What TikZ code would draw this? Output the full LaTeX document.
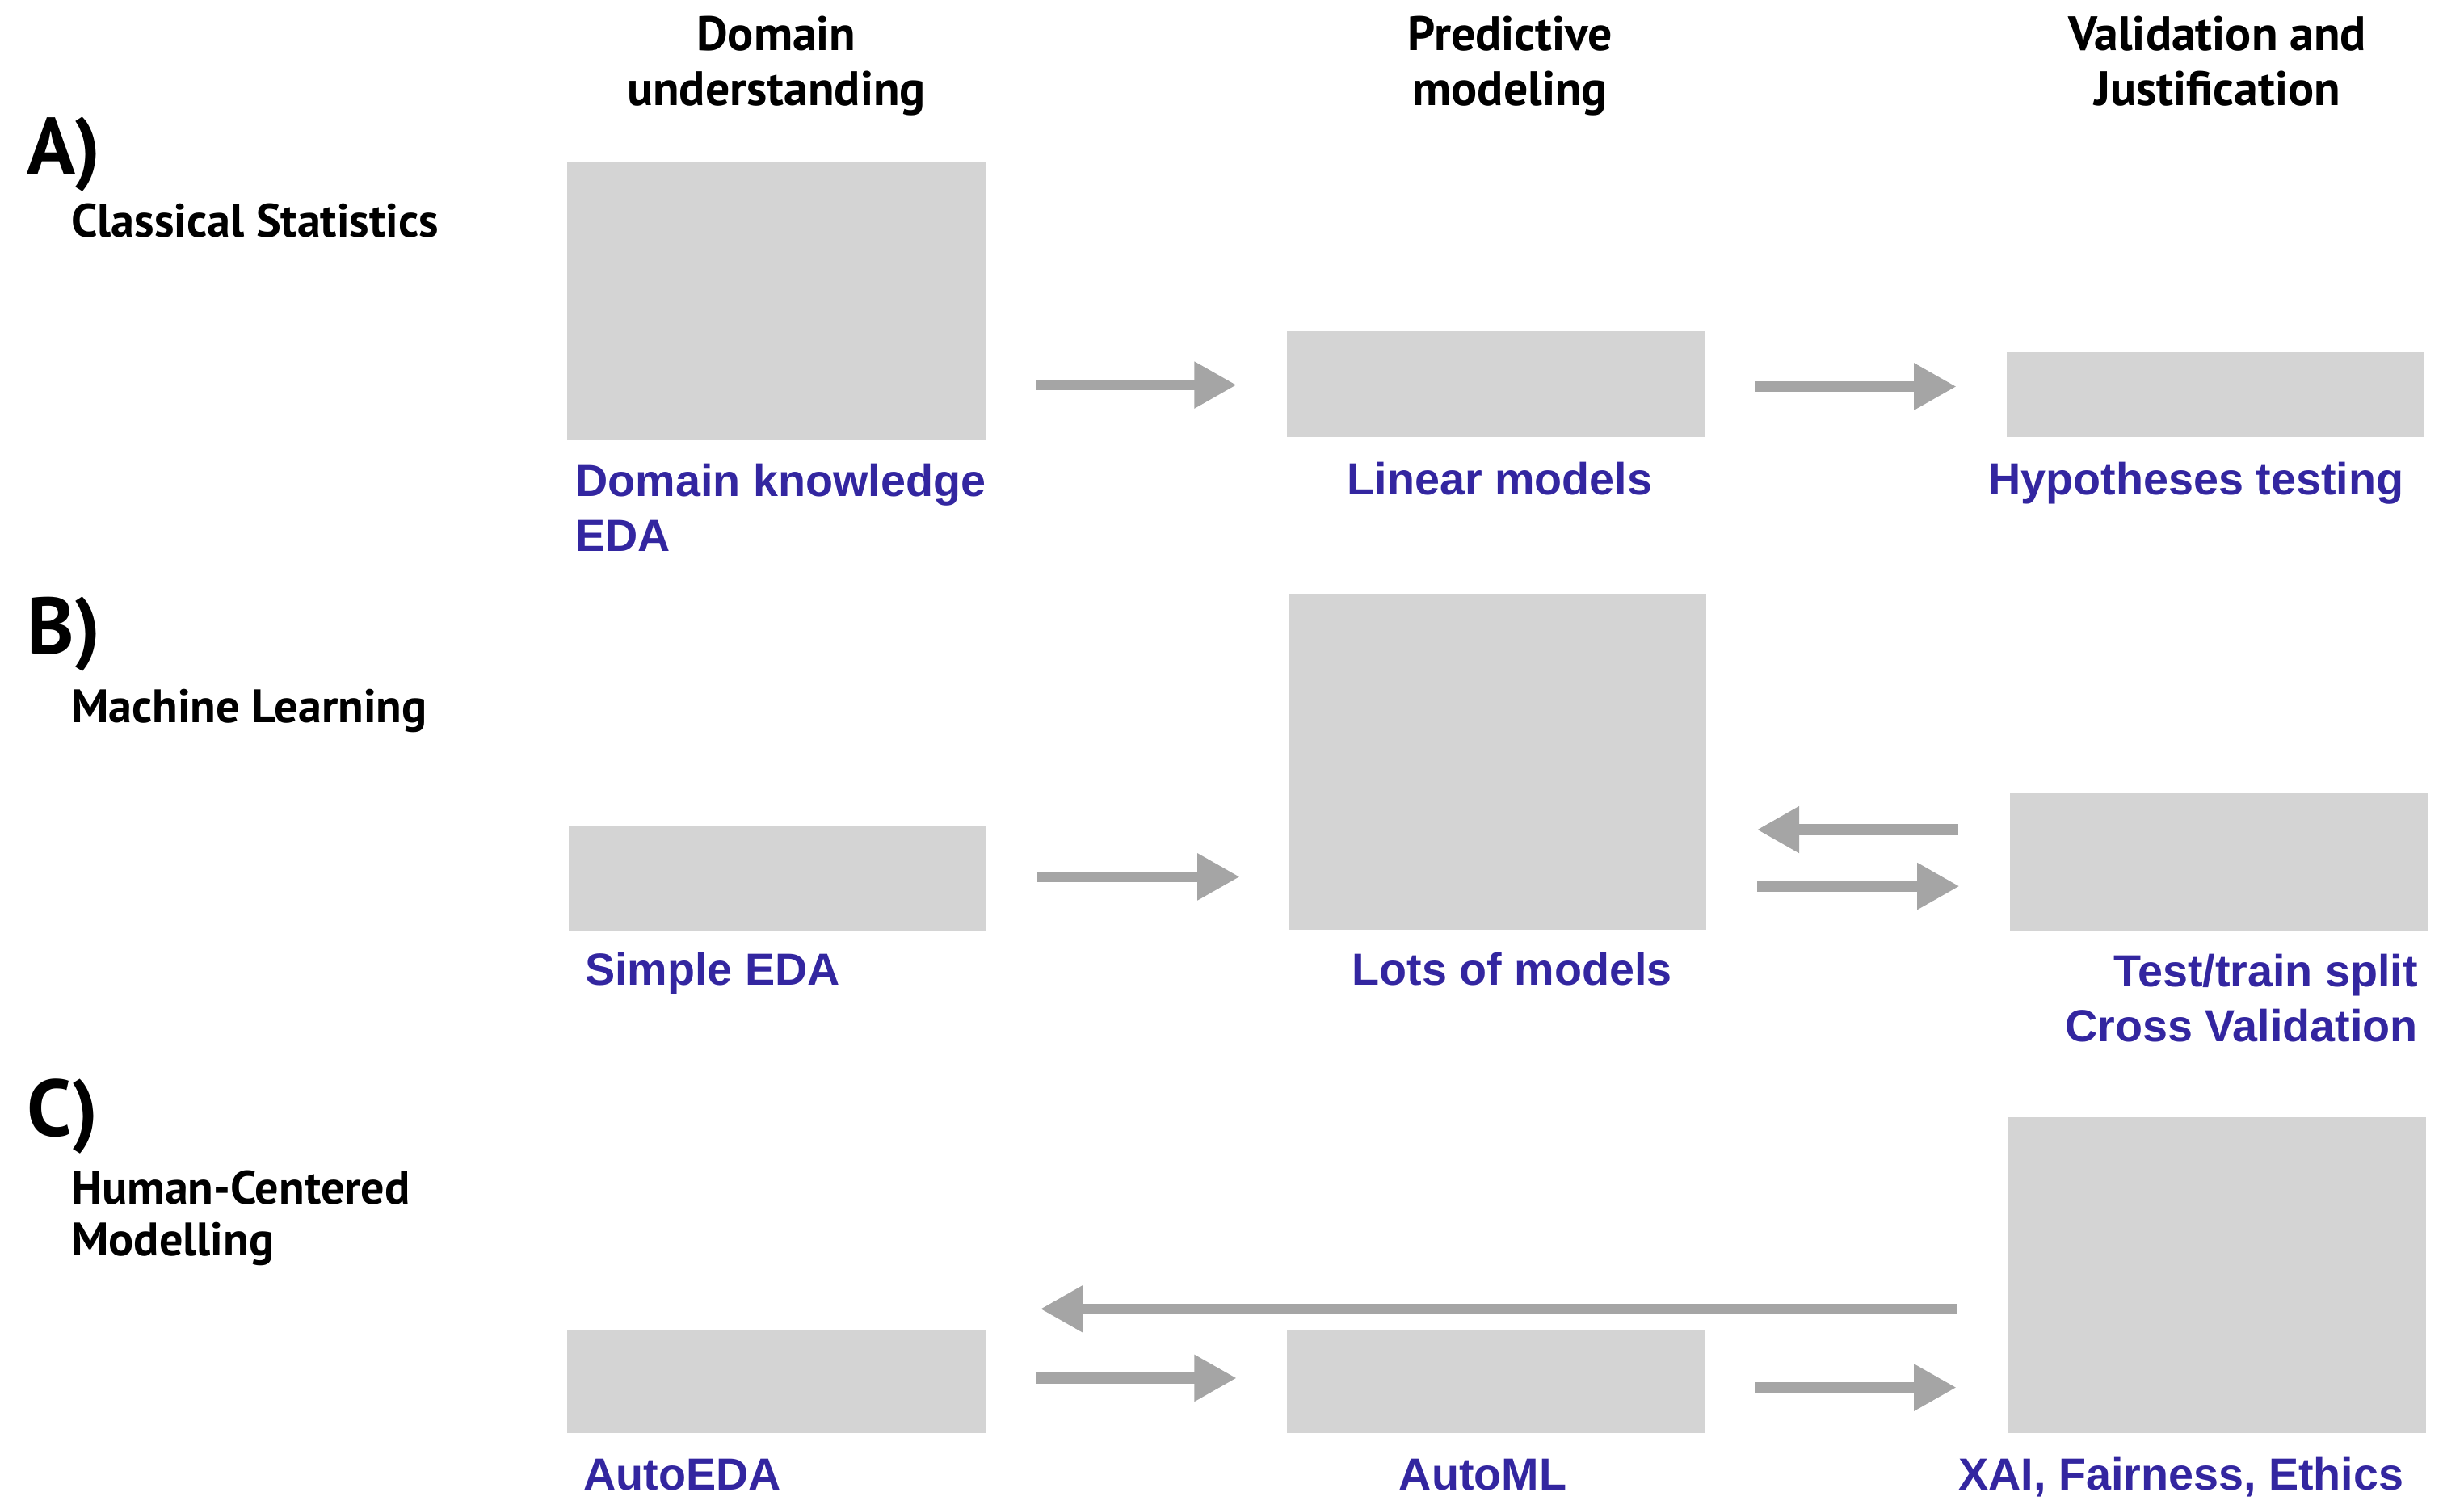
\documentclass[tikz,border=0pt]{standalone}
\usepackage{fontspec}
\setmainfont{Liberation Sans}
\newfontfamily\myriadlike{PT Sans}
\usetikzlibrary{arrows.meta}
\definecolor{boxgray}{HTML}{D4D4D4}
\definecolor{arrowgray}{HTML}{A5A5A5}
\definecolor{labelblue}{HTML}{3326A0}
\begin{document}
\begin{tikzpicture}[x=0.02cm,y=-0.02cm,
 box/.style={fill=boxgray, draw=none, inner sep=0pt, outer sep=0pt, anchor=north west},
 flow/.style={draw=arrowgray, line width=0.14cm, -{Triangle[length=0.54cm,width=0.56cm]}},
 colhead/.style={inner sep=0pt, anchor=base, font=\myriadlike\bfseries\fontsize{17.5}{20}\selectfont},
 rowlabel/.style={inner sep=0pt, anchor=base west, font=\myriadlike\bfseries\fontsize{17}{20}\selectfont},
 rowletter/.style={inner sep=0pt, anchor=base west, font=\myriadlike\bfseries\fontsize{29}{32}\selectfont},
 outlbl/.style={inner sep=0pt, text=labelblue, font=\bfseries\fontsize{16.3}{20}\selectfont}]
\useasboundingbox (0,0) rectangle (1568,960);

% column headers
\node[colhead] (h1a) at (494,32) {Domain};
\node[colhead] (h1b) at (494,67) {understanding};
\node[colhead] (h2a) at (961,32) {Predictive};
\node[colhead] (h2b) at (961,67) {modeling};
\node[colhead] (h3a) at (1411,32) {Validation and};
\node[colhead] (h3b) at (1411,67) {Justification};

% row labels
\node[rowletter] (lA) at (17,111) {A)};
\node[rowlabel] (rA) at (45,151) {Classical Statistics};
\node[rowletter] (lB) at (17,416) {B)};
\node[rowlabel] (rB) at (45,460) {Machine Learning};
\node[rowletter] (lC) at (17,723) {C)};
\node[rowlabel] (rC1) at (45,766) {Human-Centered};
\node[rowlabel] (rC2) at (45,799) {Modelling};

% row A boxes
\node[box, minimum width=5.32cm, minimum height=3.54cm] (A1) at (361,103) {};
\node[box, minimum width=5.32cm, minimum height=1.34cm] (A2) at (819,211) {};
\node[box, minimum width=5.32cm, minimum height=1.08cm] (A3) at (1277,224) {};
% row B boxes
\node[box, minimum width=5.32cm, minimum height=1.32cm] (B1) at (362,526) {};
\node[box, minimum width=5.32cm, minimum height=4.28cm] (B2) at (820,378) {};
\node[box, minimum width=5.32cm, minimum height=1.74cm] (B3) at (1279,505) {};
% row C boxes
\node[box, minimum width=5.32cm, minimum height=1.32cm] (C1) at (361,846) {};
\node[box, minimum width=5.32cm, minimum height=1.32cm] (C2) at (819,846) {};
\node[box, minimum width=5.32cm, minimum height=4.02cm] (C3) at (1278,711) {};

% blue labels
\node[outlbl, anchor=base west] (tA1a) at (366,316) {Domain knowledge};
\node[outlbl, anchor=base west] (tA1b) at (366,351) {EDA};
\node[outlbl, anchor=base west] (tA2) at (857,315) {Linear models};
\node[outlbl, anchor=base east] (tA3) at (1530,315) {Hypotheses testing};
\node[outlbl, anchor=base west] (tB1) at (372,627) {Simple EDA};
\node[outlbl, anchor=base west] (tB2) at (860,627) {Lots of models};
\node[outlbl, anchor=base east] (tB3a) at (1539,628) {Test/train split};
\node[outlbl, anchor=base east] (tB3b) at (1539,663) {Cross Validation};
\node[outlbl, anchor=base west] (tC1) at (371,948) {AutoEDA};
\node[outlbl, anchor=base west] (tC2) at (890,948) {AutoML};
\node[outlbl, anchor=base east] (tC3) at (1530,948) {XAI, Fairness, Ethics};

% arrow end points
\coordinate (a1s) at (659,245);  \coordinate (a1e) at (787,245);
\coordinate (a2s) at (1117,246); \coordinate (a2e) at (1245,246);
\coordinate (b1s) at (660,558);  \coordinate (b1e) at (789,558);
\coordinate (b2s) at (1246,528); \coordinate (b2e) at (1118,528);
\coordinate (b3s) at (1118,564); \coordinate (b3e) at (1247,564);
\coordinate (c0s) at (1245,833); \coordinate (c0e) at (662,833);
\coordinate (c1s) at (659,877);  \coordinate (c1e) at (787,877);
\coordinate (c2s) at (1117,883); \coordinate (c2e) at (1245,883);

\draw[flow] (a1s) -- (a1e);
\draw[flow] (a2s) -- (a2e);
\draw[flow] (b1s) -- (b1e);
\draw[flow] (b2s) -- (b2e);
\draw[flow] (b3s) -- (b3e);
\draw[flow] (c0s) -- (c0e);
\draw[flow] (c1s) -- (c1e);
\draw[flow] (c2s) -- (c2e);
\end{tikzpicture}
\end{document}
